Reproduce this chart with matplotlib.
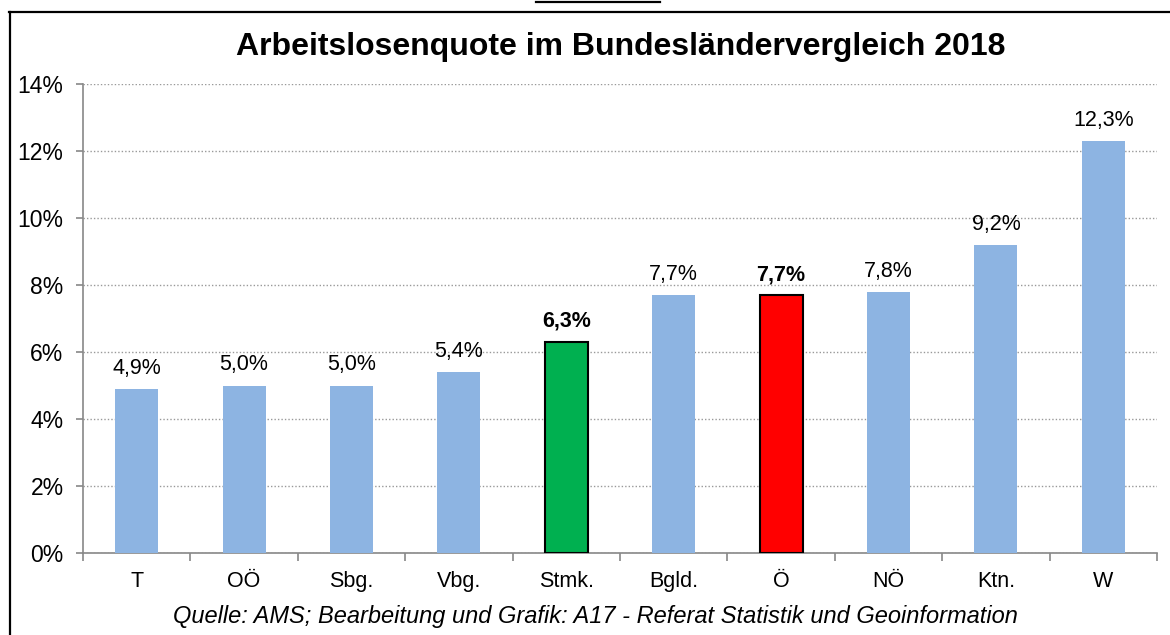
import matplotlib.pyplot as plt
from matplotlib.lines import Line2D

plt.rcParams['font.family'] = ['Liberation Sans', 'DejaVu Sans']

regions = ['T', 'OÖ', 'Sbg.', 'Vbg.', 'Stmk.', 'Bgld.', 'Ö', 'NÖ', 'Ktn.', 'W']
quote = [4.9, 5.0, 5.0, 5.4, 6.3, 7.7, 7.7, 7.8, 9.2, 12.3]
highlight = {'Stmk.': '#00B050', 'Ö': '#FF0000'}

W, H = 1170, 635
fig = plt.figure(figsize=(W / 100, H / 100), dpi=100)
ax = fig.add_axes([83 / W, 1 - 553 / H, (1157 - 83) / W, (553 - 84) / H])

x = range(len(regions))
for i, (name, v) in enumerate(zip(regions, quote)):
    if name in highlight:
        ax.bar(i, v, width=0.4, color=highlight[name], edgecolor='black', linewidth=1.5, zorder=3)
        weight = 'bold'
    else:
        ax.bar(i, v, width=0.4, color='#8DB4E2', zorder=3)
        weight = 'normal'
    ax.text(i, v + 0.3, ('%.1f%%' % v).replace('.', ','), ha='center', va='bottom',
            fontsize=15.5, fontweight=weight)

ax.set_xlim(-0.5, len(regions) - 0.5)
ax.set_ylim(0, 14)
ax.set_yticks(range(0, 15, 2))
ax.set_yticklabels(['%d%%' % t for t in range(0, 15, 2)], fontsize=16.5)
ax.yaxis.grid(True, linestyle=(0, (1, 1.5)), color='#999999', linewidth=1, zorder=0)
ax.set_xticks(list(x))
ax.set_xticklabels(regions, fontsize=15.5)
ax.set_xticks([i - 0.5 for i in range(len(regions) + 1)], minor=True)
ax.tick_params(axis='x', which='major', length=0, pad=13)
ax.tick_params(axis='x', which='minor', length=6, color='#888888', width=1.2)
ax.tick_params(axis='y', length=5, color='#888888', width=1.2, pad=9)

for s in ['top', 'right']:
    ax.spines[s].set_visible(False)
for s in ['left', 'bottom']:
    ax.spines[s].set_color('#888888')
    ax.spines[s].set_linewidth(1.2)

fig.text(621 / W, 1 - 47 / H, 'Arbeitslosenquote im Bundesländervergleich 2018',
         ha='center', va='center', fontsize=23, fontweight='bold')
fig.text(595 / W, 1 - 617 / H,
         'Quelle: AMS; Bearbeitung und Grafik: A17 - Referat Statistik und Geoinformation',
         ha='center', va='center', fontsize=17, style='italic')

fig.add_artist(Line2D([9.5 / W, 9.5 / W], [0, 1 - 12 / H], color='black', linewidth=1.6))
fig.add_artist(Line2D([9 / W, 1], [1 - 12 / H, 1 - 12 / H], color='black', linewidth=1.6))
fig.add_artist(Line2D([536 / W, 660 / W], [1 - 2 / H, 1 - 2 / H], color='black', linewidth=1.6))

fig.savefig('out.png', dpi=100)
